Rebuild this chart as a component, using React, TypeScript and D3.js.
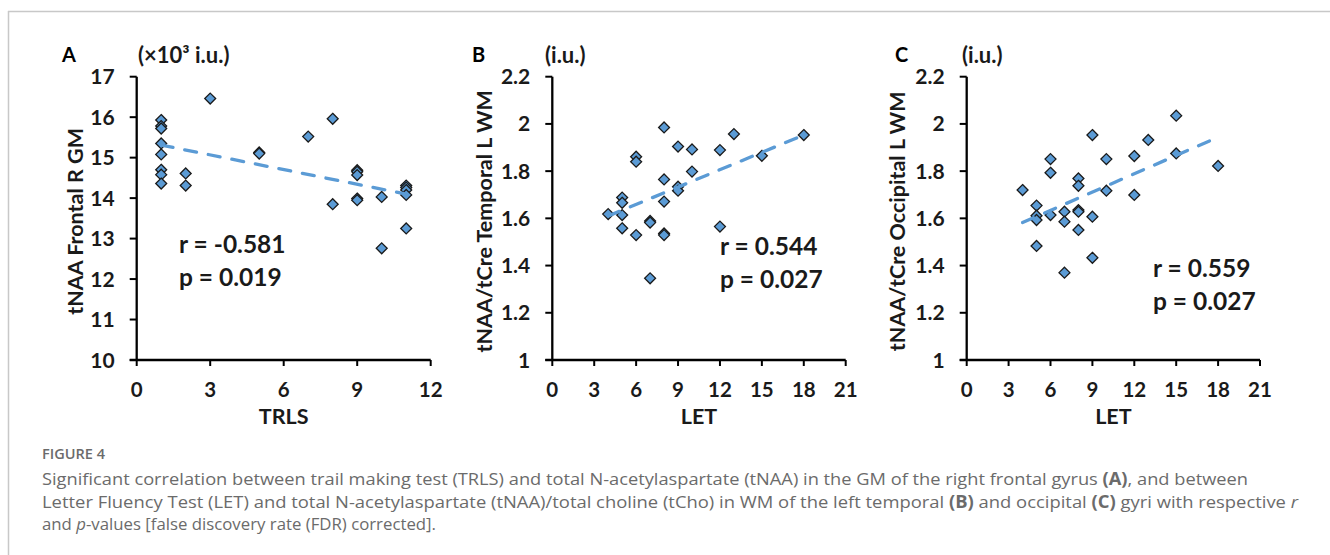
import React from "react";
import * as d3 from "d3";

// ---------- data ----------
const xA = [1, 1, 1, 1, 1, 1, 1, 1, 2, 2, 3, 5, 5, 7, 8, 8, 9, 9, 9, 9, 9, 10, 10, 11, 11, 11, 11, 11];
const yA = [15.93, 15.78, 15.72, 15.35, 15.08, 14.7, 14.58, 14.36, 14.61, 14.31, 16.46, 15.13, 15.1, 15.52, 15.96, 13.85, 14.69, 14.65, 14.57, 13.99, 13.95, 14.03, 12.76, 14.31, 14.26, 14.2, 14.08, 13.25];

const xB = [4, 5, 5, 5, 5, 6, 6, 6, 7, 7, 7, 8, 8, 8, 8, 8, 9, 9, 9, 10, 10, 12, 12, 13, 15, 18];
const yB = [1.618, 1.688, 1.666, 1.614, 1.558, 1.861, 1.84, 1.529, 1.589, 1.582, 1.346, 1.985, 1.765, 1.671, 1.536, 1.529, 1.904, 1.734, 1.717, 1.892, 1.798, 1.889, 1.565, 1.957, 1.865, 1.953];

const xC = [4, 5, 5, 5, 5, 6, 6, 6, 7, 7, 7, 8, 8, 8, 8, 8, 9, 9, 9, 10, 10, 12, 12, 13, 15, 15, 18];
const yC = [1.72, 1.654, 1.611, 1.593, 1.483, 1.851, 1.793, 1.614, 1.628, 1.586, 1.37, 1.769, 1.738, 1.635, 1.628, 1.551, 1.953, 1.607, 1.433, 1.851, 1.717, 1.864, 1.699, 1.932, 2.035, 1.875, 1.822];

const trendAx = [1, 11];
const trendAy = [15.31, 14.1];
const trendBx = [4, 18];
const trendBy = [1.61, 1.953];
const trendCx = [4, 18];
const trendCy = [1.582, 1.944];

const xTicksA = [0, 3, 6, 9, 12];
const yTicksA = [10, 11, 12, 13, 14, 15, 16, 17];
const xTicksLET = [0, 3, 6, 9, 12, 15, 18, 21];
const yTicksRatio = [1, 1.2, 1.4, 1.6, 1.8, 2, 2.2];

const statR = ["r = -0.581", "r = 0.544", "r = 0.559"];
const statP = ["p = 0.019", "p = 0.027", "p = 0.027"];
const panelLetters = ["A", "B", "C"];
const unitLabels = ["(\u00d710\u00b3 i.u.)", "(i.u.)", "(i.u.)"];
const yTitles = ["tNAA Frontal R GM", "tNAA/tCre Temporal L WM", "tNAA/tCre Occipital L WM"];
const xTitles = ["TRLS", "LET", "LET"];

// ---------- layout ----------
const W = 1330;
const H = 555;
const TOP = 76.7;
const BOTTOM = 360;
const BLUE = "#5b9bd5";
const FONT = "Lato, 'Open Sans', sans-serif";
const CAPFONT = "'Open Sans', Lato, sans-serif";
const INK = "#1a1a1a";

const panels = [
  { xs: xA, ys: yA, tx: trendAx, ty: trendAy, xDom: [0, 12], yDom: [10, 17], xT: xTicksA, yT: yTicksA, x0: 136.7, x1: 430.7, statX: 179, statY: 253, fmt: (d: number) => String(d) },
  { xs: xB, ys: yB, tx: trendBx, ty: trendBy, xDom: [0, 21], yDom: [1, 2.2], xT: xTicksLET, yT: yTicksRatio, x0: 552.3, x1: 845.7, statX: 720, statY: 255, fmt: (d: number) => String(+d.toFixed(1)) },
  { xs: xC, ys: yC, tx: trendCx, ty: trendCy, xDom: [0, 21], yDom: [1, 2.2], xT: xTicksLET, yT: yTicksRatio, x0: 966.7, x1: 1260, statX: 1153, statY: 277, fmt: (d: number) => String(+d.toFixed(1)) },
];

function Panel({ i }: { i: number }) {
  const p = panels[i];
  const x = d3.scaleLinear().domain(p.xDom).range([p.x0, p.x1]);
  const y = d3.scaleLinear().domain(p.yDom).range([BOTTOM, TOP]);
  const diamond = d3.symbol().type(d3.symbolDiamond2).size(76)();
  const line = d3
    .line<number>()
    .x((_, k) => x(p.tx[k]))
    .y((d) => y(d));
  const midY = (TOP + BOTTOM) / 2;
  const titleX = [75, 484, 897][i];
  return (
    <g>
      <text x={[62, 472, 895][i]} y={62} fontFamily={FONT} fontWeight={700} fontSize={20} fill="#000">
        {panelLetters[i]}
      </text>
      <text x={[138, 545, 962][i]} y={63} fontFamily={FONT} fontWeight={700} fontSize={22} fill={INK}>
        {unitLabels[i]}
      </text>
      {/* y axis */}
      <line x1={p.x0} x2={p.x0} y1={TOP} y2={BOTTOM} stroke="#000" strokeWidth={2.3} />
      {p.yT.map((t) => (
        <g key={"y" + t}>
          <line x1={p.x0 - 7} x2={p.x0} y1={y(t)} y2={y(t)} stroke="#000" strokeWidth={2} />
          <text x={p.x0 - 22} y={y(t)} dy="0.36em" textAnchor="end" fontFamily={FONT} fontWeight={700} fontSize={21} fill={INK}>
            {p.fmt(t)}
          </text>
        </g>
      ))}
      {/* x axis */}
      <line x1={p.x0 - 7} x2={p.x1} y1={BOTTOM} y2={BOTTOM} stroke="#000" strokeWidth={2.3} />
      {p.xT.map((t) => (
        <g key={"x" + t}>
          <line x1={x(t)} x2={x(t)} y1={BOTTOM} y2={BOTTOM + 6} stroke="#000" strokeWidth={2} />
          <text x={x(t)} y={397} textAnchor="middle" fontFamily={FONT} fontWeight={700} fontSize={20.5} fill={INK}>
            {t}
          </text>
        </g>
      ))}
      <text x={(p.x0 + p.x1) / 2} y={423.5} textAnchor="middle" fontFamily={FONT} fontWeight={700} fontSize={21.5} fill={INK}>
        {xTitles[i]}
      </text>
      <text
        transform={`translate(${titleX},${midY + 3}) rotate(-90)`}
        textAnchor="middle"
        dy="0.36em"
        fontFamily={FONT}
        fontWeight={700}
        fontSize={21.5}
        fill={INK}
      >
        {yTitles[i]}
      </text>
      {/* points */}
      {p.xs.map((xv, k) => (
        <path key={k} d={diamond} transform={`translate(${x(xv)},${y(p.ys[k])})`} fill={BLUE} stroke={INK} strokeWidth={1.3} />
      ))}
      {/* trend */}
      <path d={line(p.ty) || ""} fill="none" stroke={BLUE} strokeWidth={3.3} strokeDasharray="12 12" strokeLinecap="round" />
      {/* stats */}
      <text x={p.statX} y={p.statY} fontFamily={FONT} fontWeight={700} fontSize={24.5} fill={INK}>
        {statR[i]}
      </text>
      <text x={p.statX} y={p.statY + 33} fontFamily={FONT} fontWeight={700} fontSize={24.5} fill={INK}>
        {statP[i]}
      </text>
    </g>
  );
}

export default function App() {
  const cap = { fontFamily: CAPFONT, fontSize: 17, fill: "#6b6b6b", lengthAdjust: "spacingAndGlyphs" as const };
  return (
    <svg width={W} height={H} style={{ position: "absolute", left: 0, top: 0, background: "#fff" }}>
      <rect x={0} y={0} width={W} height={H} fill="#fff" />
      <line x1={8} x2={W} y1={11.5} y2={11.5} stroke="#c8c8c8" strokeWidth={1.5} />
      <line x1={8.5} x2={8.5} y1={11} y2={H} stroke="#c8c8c8" strokeWidth={1.5} />
      {[0, 1, 2].map((i) => (
        <Panel key={i} i={i} />
      ))}
      <text x={42} y={459} fontFamily={CAPFONT} fontWeight={600} fontSize={14.5} fill="#6b6b6b" textLength={63} lengthAdjust="spacingAndGlyphs">
        FIGURE 4
      </text>
      <text x={42} y={485} {...cap} textLength={1206}>
        Significant correlation between trail making test (TRLS) and total N-acetylaspartate (tNAA) in the GM of the right frontal gyrus{" "}
        <tspan fontWeight={700}>(A)</tspan>, and between
      </text>
      <text x={42} y={507.5} {...cap} textLength={1256}>
        Letter Fluency Test (LET) and total N-acetylaspartate (tNAA)/total choline (tCho) in WM of the left temporal{" "}
        <tspan fontWeight={700}>(B)</tspan> and occipital <tspan fontWeight={700}>(C)</tspan> gyri with respective{" "}
        <tspan fontStyle="italic">r</tspan>
      </text>
      <text x={42} y={530} {...cap} textLength={394}>
        and <tspan fontStyle="italic">p</tspan>-values [false discovery rate (FDR) corrected].
      </text>
    </svg>
  );
}
